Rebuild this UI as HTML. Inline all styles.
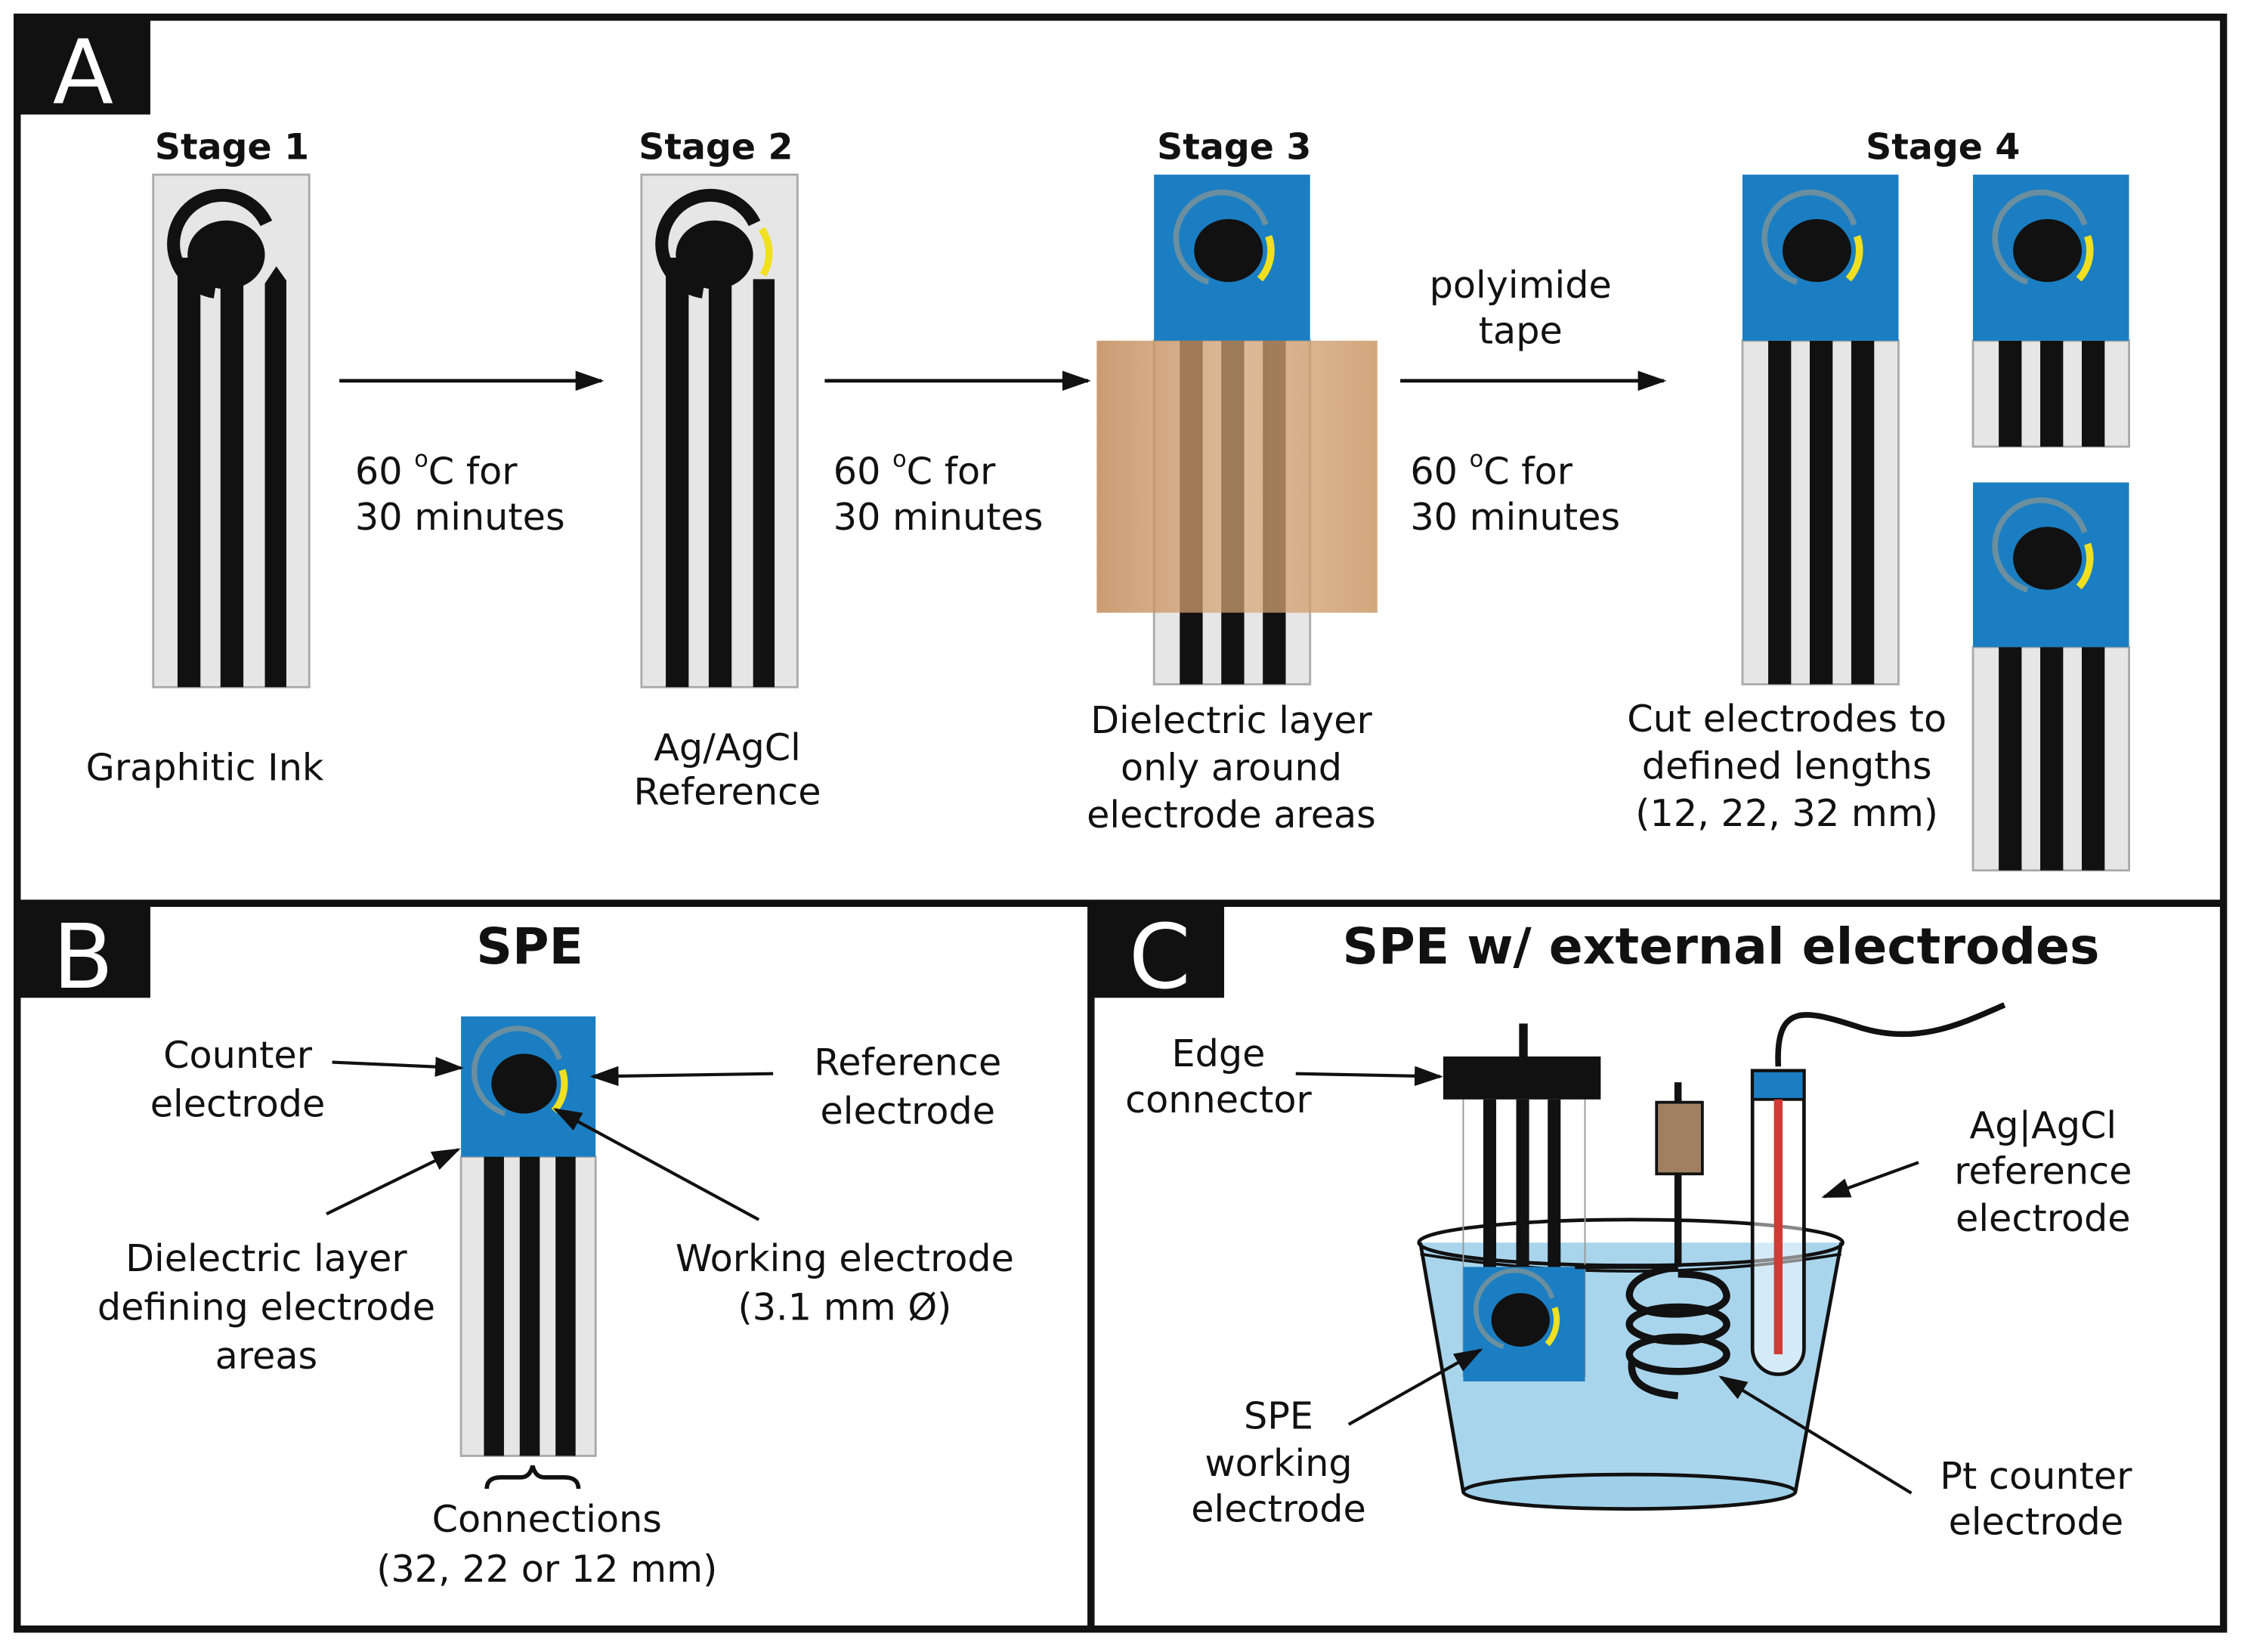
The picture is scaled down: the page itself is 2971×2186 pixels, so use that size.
<!DOCTYPE html>
<html><head><meta charset="utf-8"><style>
html,body{margin:0;padding:0;background:#fff;}
svg{display:block;}
text{font-family:"DejaVu Sans","Liberation Sans",sans-serif;fill:#111;}
</style></head><body>
<svg width="2971" height="2186" viewBox="0 0 1568 1154" preserveAspectRatio="none" xmlns="http://www.w3.org/2000/svg">
<defs>
<marker id="a2" viewBox="0 0 10 10" refX="9" refY="5" markerWidth="20" markerHeight="14" orient="auto" markerUnits="userSpaceOnUse" preserveAspectRatio="none"><path d="M0,0 L10,5 L0,10 z" fill="#111"/></marker>
<linearGradient id="tape" x1="0" x2="1" y1="0" y2="0">
<stop offset="0" stop-color="#c08a5a" stop-opacity="0.85"/><stop offset="0.5" stop-color="#d9a777" stop-opacity="0.7"/><stop offset="1" stop-color="#c99766" stop-opacity="0.85"/></linearGradient>
<g id="head">
<path d="M-8,26 A34,34 0 1,1 28,-22" fill="none" stroke="#111" stroke-width="9"/>
<ellipse cx="0" cy="0" rx="27" ry="24" fill="#111"/>
</g>
<g id="headb">
<path d="M-14,22 A32,32 0 1,1 26,-18" fill="none" stroke="#6a8fa0" stroke-width="4"/>
<ellipse cx="0" cy="0" rx="24" ry="22" fill="#111"/>
<path d="M28,-10 A30,30 0 0,1 22,20" fill="none" stroke="#f0e020" stroke-width="5"/>
</g>
</defs>
<rect width="1568" height="1154" fill="#fff"/>
<rect x="12" y="12" width="1541" height="1126" fill="none" stroke="#111" stroke-width="5"/>
<line x1="12" y1="631" x2="1553" y2="631" stroke="#111" stroke-width="5"/>
<line x1="762" y1="631" x2="762" y2="1138" stroke="#111" stroke-width="5"/>
<rect x="12" y="12" width="93" height="68" fill="#111"/>
<text x="58" y="72" font-size="62" text-anchor="middle" style="fill:#fff">A</text>
<rect x="12" y="633" width="93" height="64" fill="#111"/>
<text x="58" y="690" font-size="62" text-anchor="middle" style="fill:#fff">B</text>
<rect x="764" y="633" width="91" height="64" fill="#111"/>
<text x="810" y="690" font-size="62" text-anchor="middle" style="fill:#fff">C</text>

<g font-size="25" font-weight="bold" text-anchor="middle">
<text x="162" y="111">Stage 1</text><text x="500" y="111">Stage 2</text><text x="862" y="111">Stage 3</text><text x="1357" y="111">Stage 4</text>
</g>
<rect x="107" y="122" width="109" height="358" fill="#e6e6e6" stroke="#aaa" stroke-width="1.5"/>
<rect x="124" y="180" width="16" height="300" fill="#111"/>
<rect x="154" y="180" width="16" height="300" fill="#111"/>
<path d="M185,480 V198 L193,186 L200,196 V480 z" fill="#111"/>
<use href="#head" x="158" y="178"/>
<rect x="448" y="122" width="109" height="358" fill="#e6e6e6" stroke="#aaa" stroke-width="1.5"/>
<rect x="465" y="180" width="16" height="300" fill="#111"/>
<rect x="495" y="180" width="16" height="300" fill="#111"/>
<rect x="526" y="195" width="15" height="285" fill="#111"/>
<use href="#head" x="499" y="178"/>
<path d="M532,160 A30,30 0 0,1 533,192" fill="none" stroke="#f0e020" stroke-width="5"/>
<g stroke="#111" stroke-width="2.5" marker-end="url(#a2)">
<line x1="237" y1="266" x2="420" y2="266"/><line x1="576" y1="266" x2="760" y2="266"/><line x1="978" y1="266" x2="1162" y2="266"/>
</g>
<g font-size="26">
<text x="248" y="338">60 <tspan font-size="16" dy="-12">o</tspan><tspan dy="12">C for</tspan></text><text x="248" y="370">30 minutes</text>
<text x="582" y="338">60 <tspan font-size="16" dy="-12">o</tspan><tspan dy="12">C for</tspan></text><text x="582" y="370">30 minutes</text>
<text x="985" y="338">60 <tspan font-size="16" dy="-12">o</tspan><tspan dy="12">C for</tspan></text><text x="985" y="370">30 minutes</text>
<text x="1062" y="208" text-anchor="middle">polyimide</text><text x="1062" y="240" text-anchor="middle">tape</text>
<text x="60" y="545">Graphitic Ink</text>
<text x="508" y="531" text-anchor="middle">Ag/AgCl</text><text x="508" y="562" text-anchor="middle">Reference</text>
<text x="860" y="512" text-anchor="middle">Dielectric layer</text><text x="860" y="545" text-anchor="middle">only around</text><text x="860" y="578" text-anchor="middle">electrode areas</text>
<text x="1248" y="511" text-anchor="middle">Cut electrodes to</text><text x="1248" y="544" text-anchor="middle">defined lengths</text><text x="1248" y="577" text-anchor="middle">(12, 22, 32 mm)</text>
</g>
<rect x="806" y="238" width="109" height="240" fill="#e6e6e6" stroke="#aaa" stroke-width="1.5"/>
<rect x="824" y="238" width="16" height="240" fill="#111"/><rect x="853" y="238" width="16" height="240" fill="#111"/><rect x="882" y="238" width="16" height="240" fill="#111"/>
<rect x="806" y="122" width="109" height="116" fill="#1b7ec2"/>
<use href="#headb" x="858" y="175"/>
<rect x="766" y="238" width="196" height="190" fill="url(#tape)"/>
<rect x="1217" y="238" width="109" height="240" fill="#e6e6e6" stroke="#aaa" stroke-width="1.5"/>
<rect x="1235" y="238" width="16" height="240" fill="#111"/><rect x="1264" y="238" width="16" height="240" fill="#111"/><rect x="1293" y="238" width="16" height="240" fill="#111"/>
<rect x="1217" y="122" width="109" height="116" fill="#1b7ec2"/>
<use href="#headb" x="1269" y="175"/>
<rect x="1378" y="238" width="109" height="74" fill="#e6e6e6" stroke="#aaa" stroke-width="1.5"/>
<rect x="1396" y="238" width="16" height="74" fill="#111"/><rect x="1425" y="238" width="16" height="74" fill="#111"/><rect x="1454" y="238" width="16" height="74" fill="#111"/>
<rect x="1378" y="122" width="109" height="116" fill="#1b7ec2"/>
<use href="#headb" x="1430" y="175"/>
<rect x="1378" y="452" width="109" height="156" fill="#e6e6e6" stroke="#aaa" stroke-width="1.5"/>
<rect x="1396" y="452" width="16" height="156" fill="#111"/><rect x="1425" y="452" width="16" height="156" fill="#111"/><rect x="1454" y="452" width="16" height="156" fill="#111"/>
<rect x="1378" y="337" width="109" height="115" fill="#1b7ec2"/>
<use href="#headb" x="1430" y="390"/>

<text x="370" y="673" font-size="35" font-weight="bold" text-anchor="middle">SPE</text>
<rect x="322" y="808" width="94" height="209" fill="#e6e6e6" stroke="#aaa" stroke-width="1.5"/>
<rect x="338" y="808" width="14" height="209" fill="#111"/><rect x="363" y="808" width="14" height="209" fill="#111"/><rect x="388" y="808" width="14" height="209" fill="#111"/>
<rect x="322" y="710" width="94" height="98" fill="#1b7ec2"/>
<use href="#headb" transform="translate(366,757) scale(0.95)"/>
<g stroke="#111" stroke-width="2.2" marker-end="url(#a2)" fill="none">
<line x1="232" y1="742" x2="322" y2="746"/>
<line x1="540" y1="750" x2="414" y2="752"/>
<line x1="530" y1="852" x2="388" y2="775"/>
<line x1="228" y1="848" x2="320" y2="803"/>
</g>
<path d="M340,1040 q0,-8 10,-8 h14 q6,0 8,-8 q2,8 8,8 h14 q10,0 10,8" fill="none" stroke="#111" stroke-width="3"/>
<g font-size="26" text-anchor="middle">
<text x="166" y="746">Counter</text><text x="166" y="780">electrode</text>
<text x="634" y="751">Reference</text><text x="634" y="785">electrode</text>
<text x="186" y="888">Dielectric layer</text><text x="186" y="922">defining electrode</text><text x="186" y="956">areas</text>
<text x="590" y="888">Working electrode</text><text x="590" y="922">(3.1 mm Ø)</text>
<text x="382" y="1070">Connections</text><text x="382" y="1105">(32, 22 or 12 mm)</text>
</g>

<text x="1202" y="673" font-size="35" font-weight="bold" text-anchor="middle">SPE w/ external electrodes</text>
<path d="M992,868 L1022,1042 Q1140,1062 1254,1042 L1286,868 Z" fill="#a9d5ec"/>
<ellipse cx="1138" cy="1042" rx="116" ry="12" fill="#9fd0ea" stroke="#111" stroke-width="2.5"/>
<ellipse cx="1139" cy="868" rx="148" ry="16" fill="none" stroke="#111" stroke-width="2.5"/>
<path d="M992,876 Q1140,900 1286,876" fill="none" stroke="#111" stroke-width="2"/>
<path d="M992,868 L1022,1042 M1286,868 L1254,1042" stroke="#111" stroke-width="2.5"/>
<line x1="1022" y1="768" x2="1022" y2="962" stroke="#999" stroke-width="1"/>
<line x1="1107" y1="768" x2="1107" y2="962" stroke="#999" stroke-width="1"/>
<rect x="1036" y="768" width="9" height="118" fill="#111"/><rect x="1059" y="768" width="9" height="118" fill="#111"/><rect x="1081" y="768" width="9" height="118" fill="#111"/>
<rect x="1022" y="885" width="85" height="80" fill="#1b7ec2"/>
<use href="#headb" transform="translate(1062,922) scale(0.85)"/>
<rect x="1008" y="738" width="110" height="30" fill="#111"/>
<rect x="1061" y="715" width="6" height="24" fill="#111"/>
<line x1="1172" y1="756" x2="1172" y2="885" stroke="#111" stroke-width="5"/>
<rect x="1157" y="770" width="32" height="50" fill="#a08060" stroke="#111" stroke-width="2"/>
<g fill="none" stroke="#111" stroke-width="5">
<path d="M1172,885 Q1138,890 1138,905 Q1140,918 1172,918 Q1206,916 1206,905 Q1204,890 1172,890"/>
<ellipse cx="1172" cy="925" rx="34" ry="12"/><ellipse cx="1172" cy="946" rx="34" ry="12"/>
<path d="M1140,950 Q1136,972 1172,975"/>
</g>
<line x1="1100" y1="885" x2="1172" y2="885" stroke="#111" stroke-width="3"/>
<path d="M1242,745 C1240,700 1260,705 1300,718 C1340,730 1370,715 1400,702" fill="none" stroke="#111" stroke-width="4"/>
<path d="M1224,748 V942 A18,18 0 0,0 1260,942 V748 Z" fill="#fff" fill-opacity="0.5" stroke="#111" stroke-width="2.5"/>
<rect x="1224" y="748" width="36" height="20" fill="#1b7ec2" stroke="#111" stroke-width="2"/>
<rect x="1239" y="768" width="6" height="178" fill="#d13a35"/>
<g stroke="#111" stroke-width="2.2" marker-end="url(#a2)" fill="none">
<line x1="905" y1="750" x2="1006" y2="752"/>
<line x1="1340" y1="812" x2="1274" y2="836"/>
<line x1="942" y1="995" x2="1034" y2="943"/>
<line x1="1335" y1="1043" x2="1202" y2="962"/>
</g>
<g font-size="26" text-anchor="middle">
<text x="851" y="745">Edge</text><text x="851" y="777">connector</text>
<text x="1427" y="795">Ag|AgCl</text><text x="1427" y="827">reference</text><text x="1427" y="860">electrode</text>
<text x="893" y="998">SPE</text><text x="893" y="1031">working</text><text x="893" y="1063">electrode</text>
<text x="1422" y="1040">Pt counter</text><text x="1422" y="1072">electrode</text>
</g>
</svg>
</body></html>
